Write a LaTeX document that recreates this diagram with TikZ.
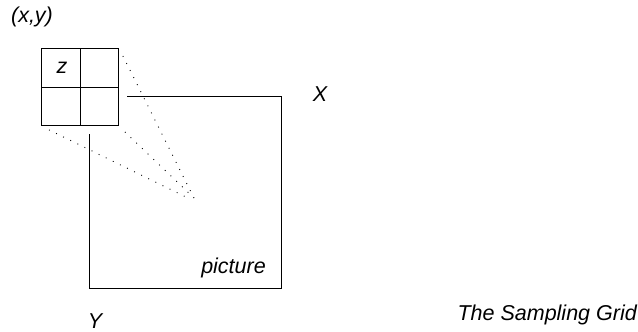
\documentclass[tikz,border=0pt]{standalone}
\usepackage{fontspec}
\setmainfont{Liberation Sans}
\begin{document}
\begin{tikzpicture}[x=1pt,y=-1pt,
  lbl/.style={font=\fontsize{21.5}{25}\selectfont\itshape, inner sep=0pt},
  frame/.style={line width=0.9pt},
  dots/.style={line width=0.9pt, dash pattern=on 0.9pt off 7pt}]
\useasboundingbox (0,0) rectangle (638,332);
% grid square
\node[frame, draw, minimum size=77pt, inner sep=0pt, anchor=north west] (grid) at (41,48) {};
\draw[frame] (grid.north) -- (grid.south);
\draw[frame] (grid.west) -- (grid.east);
% picture rectangle (partly hidden)
\coordinate (ptl) at (127,96.5);
\coordinate (ptr) at (281,96.5);
\coordinate (pbr) at (281,288);
\coordinate (pbl) at (89,288);
\coordinate (plt) at (89,134);
\draw[frame] (ptl) -- (ptr) -- (pbr) -- (pbl) -- (plt);
% dotted projection lines
\coordinate (f1) at (196,202);
\coordinate (f2) at (192,196);
\coordinate (f3) at (188,198);
\draw[dots] ([shift={(4,8)}]grid.north east) -- (f1);
\draw[dots] ([shift={(6,6)}]grid.south east) -- (f2);
\draw[dots] ([shift={(8,4)}]grid.south west) -- (f3);
% labels
\node[lbl] (xy) at (32,17) {(x,y)};
\node[lbl] (z) at (62,68) {z};
\node[lbl] (X) at (320,94) {X};
\node[lbl] (Y) at (95,321) {Y};
\node[lbl, anchor=east] (pic) at (266,268) {picture};
\node[lbl, anchor=east] (title) at (637,315) {The Sampling Grid};
\end{tikzpicture}
\end{document}
